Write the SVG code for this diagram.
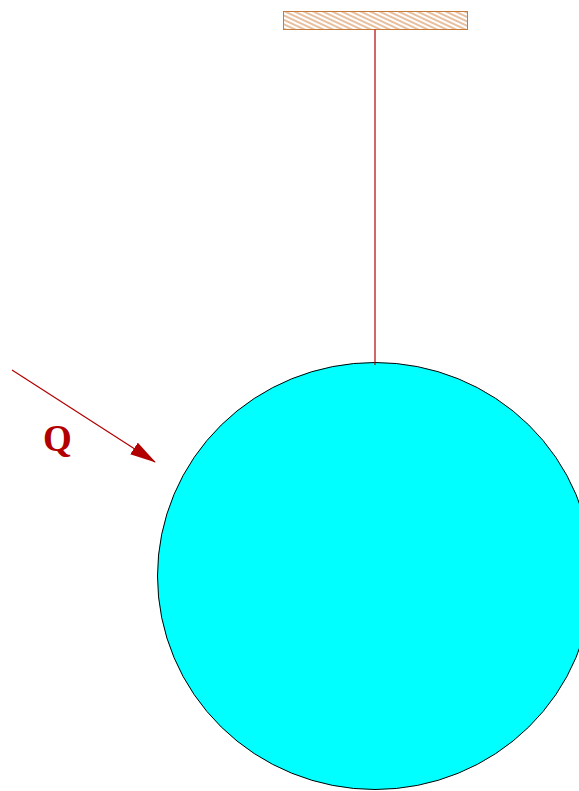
<svg xmlns="http://www.w3.org/2000/svg" width="579" height="791" viewBox="0 0 579 791">
<style>
.wire{stroke:#b20000;stroke-width:1.2;fill:none}
.lbl{font-family:"Liberation Serif",serif;font-weight:bold;font-size:37px;fill:#b20000}
</style>
<defs>
<pattern id="hatch" patternUnits="userSpaceOnUse" width="8" height="4" patternTransform="rotate(25)">
<line x1="0" y1="2" x2="8" y2="2" stroke="#d08040" stroke-width="1"/>
</pattern>
<marker id="ah" markerWidth="26" markerHeight="14" refX="25" refY="7" orient="auto" markerUnits="userSpaceOnUse">
<path d="M0,0 L26,7 L0,14 Z" fill="#b20000"/>
</marker>
</defs>
<rect width="579" height="791" fill="#fff"/>
<g id="support">
<rect x="283.5" y="11.5" width="184" height="18" fill="url(#hatch)" stroke="#c87a3a" stroke-width="1"/>
</g>
<g id="ball">
<ellipse cx="375" cy="576" rx="217.5" ry="213.5" fill="#00ffff" stroke="#000" stroke-width="1"/>
</g>
<g id="connectors">
<line class="wire" x1="375" y1="29.5" x2="375" y2="365"/>
<line class="wire" x1="12" y1="370" x2="155" y2="462" marker-end="url(#ah)"/>
</g>
<g id="label-Q">
<text class="lbl" x="43" y="451">Q</text>
</g>
</svg>
